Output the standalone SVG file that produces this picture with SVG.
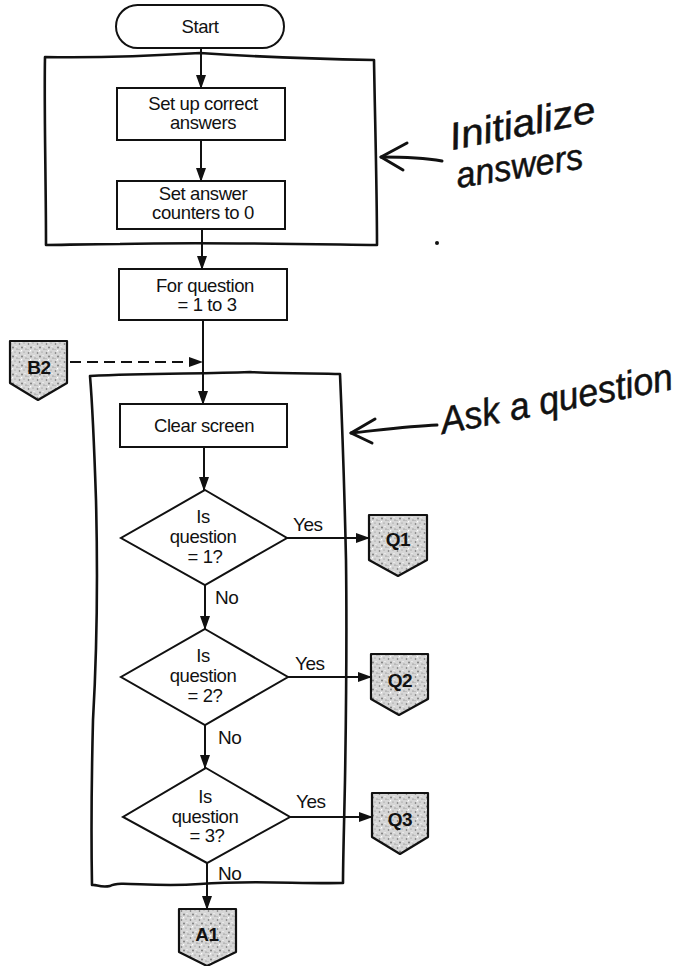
<svg xmlns="http://www.w3.org/2000/svg" width="694" height="966" viewBox="0 0 694 966">
  <style>
    .box { fill: #fff; stroke: #111; stroke-width: 2; }
    .hand { fill: none; stroke: #111; stroke-width: 2.6; stroke-linejoin: round; stroke-linecap: round; }
    .ink { fill: none; stroke: #111; stroke-width: 3; stroke-linecap: round; stroke-linejoin: round; }
    .flow { fill: none; stroke: #111; stroke-width: 2; }
    .dash { fill: none; stroke: #111; stroke-width: 2; stroke-dasharray: 11 6; }
    .lbl { font-family: "Liberation Sans", Arial, sans-serif; font-size: 18.5px; letter-spacing: -0.4px; fill: #111; text-anchor: middle; }
    .side { font-family: "Liberation Sans", Arial, sans-serif; font-size: 19px; letter-spacing: -0.5px; fill: #111; }
    .conn { fill: url(#stipple); stroke: #111; stroke-width: 2.2; stroke-linejoin: round; }
    .clbl { font-family: "Liberation Sans", Arial, sans-serif; font-size: 19px; font-weight: bold; letter-spacing: -0.5px; fill: #111; text-anchor: middle; }
    .script { font-family: "Liberation Sans", Arial, sans-serif; font-style: italic; fill: #111; stroke: #111; stroke-width: 0.5; }
  </style>
  <defs>
    <pattern id="stipple" width="9" height="9" patternUnits="userSpaceOnUse">
      <rect width="9" height="9" fill="#d6d6d6"/>
      <circle cx="1.5" cy="2" r="0.8" fill="#6a6a6a"/>
      <circle cx="6" cy="1" r="0.6" fill="#8a8a8a"/>
      <circle cx="4" cy="5.5" r="0.9" fill="#777"/>
      <circle cx="8" cy="7" r="0.6" fill="#666"/>
      <circle cx="1" cy="7.5" r="0.5" fill="#999"/>
      <rect x="6.5" y="4" width="1" height="1" fill="#fafafa"/>
      <rect x="2.5" y="0" width="1" height="1" fill="#fafafa"/>
      <rect x="3" y="8" width="1.2" height="1" fill="#fff"/>
    </pattern>
    <marker id="arrow" markerWidth="14" markerHeight="10" refX="13" refY="5" orient="auto" markerUnits="userSpaceOnUse">
      <path d="M0,0 L14,5 L0,10 Z" fill="#111"/>
    </marker>
  </defs>

  <rect width="694" height="966" fill="#fff"/>

  <!-- hand-drawn grouping frames -->
  <g id="frame-initialize">
    <path class="hand" d="M45,57 C100,58 150,56 200,53 C260,57 320,59 374,60 L374,60 C375,120 377,190 377,245 C300,244 200,242 120,244 C90,244 60,245 46,245 C46,180 44,110 45,57 Z"/>
  </g>
  <g id="frame-ask">
    <path class="hand" d="M90,376 C150,373 200,374 250,372 C290,374 320,373 340,374 C342,420 344,470 346,560 C347,640 346,720 345,780 C344,830 343,860 343,883 C300,884 250,880 200,884 C150,888 120,880 110,886 C100,888 96,884 92,885 C91,830 92,760 93,720 C97,650 98,580 96,500 C94,440 92,400 90,376 Z"/>
  </g>

  <!-- process nodes -->
  <g id="start">
    <rect class="box" x="116" y="5" width="168" height="43" rx="21.5"/>
    <text class="lbl" x="200" y="33">Start</text>
  </g>
  <g id="set-answers">
    <rect class="box" x="117" y="88" width="168" height="52"/>
    <text class="lbl" x="203" y="110">Set up correct</text>
    <text class="lbl" x="203" y="129">answers</text>
  </g>
  <g id="set-counters">
    <rect class="box" x="117" y="181" width="168" height="48"/>
    <text class="lbl" x="203" y="200">Set answer</text>
    <text class="lbl" x="203" y="219">counters to 0</text>
  </g>
  <g id="for-question">
    <rect class="box" x="119" y="269" width="168" height="51"/>
    <text class="lbl" x="205" y="292">For question</text>
    <text class="lbl" x="207" y="311">= 1 to 3</text>
  </g>
  <g id="clear-screen">
    <rect class="box" x="120" y="404" width="167" height="43"/>
    <text class="lbl" x="204" y="432">Clear screen</text>
  </g>

  <!-- decisions -->
  <g id="decision-1">
    <polygon class="box" points="205,490 287,538 205,585 121,538"/>
    <text class="lbl" x="203" y="523">Is</text>
    <text class="lbl" x="203" y="543">question</text>
    <text class="lbl" x="205" y="563">=  1?</text>
  </g>
  <g id="decision-2">
    <polygon class="box" points="205,629 288,677 205,725 121,677"/>
    <text class="lbl" x="203" y="662">Is</text>
    <text class="lbl" x="203" y="682">question</text>
    <text class="lbl" x="205" y="702">=  2?</text>
  </g>
  <g id="decision-3">
    <polygon class="box" points="206,768 290,817 207,863 123,817"/>
    <text class="lbl" x="205" y="803">Is</text>
    <text class="lbl" x="205" y="823">question</text>
    <text class="lbl" x="207" y="842">=  3?</text>
  </g>

  <!-- off-page connectors -->
  <g id="conn-b2">
    <polygon class="conn" points="10,341 67,341 67,383 38,400 10,383"/>
    <text class="clbl" x="39" y="374">B2</text>
  </g>
  <g id="conn-q1">
    <polygon class="conn" points="369,515 427,515 427,560 398,576 369,560"/>
    <text class="clbl" x="398" y="546">Q1</text>
  </g>
  <g id="conn-q2">
    <polygon class="conn" points="371,654 428,654 428,699 399,715 371,699"/>
    <text class="clbl" x="400" y="687">Q2</text>
  </g>
  <g id="conn-q3">
    <polygon class="conn" points="372,793 428,793 428,837 400,854 372,837"/>
    <text class="clbl" x="400" y="826">Q3</text>
  </g>
  <g id="conn-a1">
    <polygon class="conn" points="179,909 236,909 236,952 207,966 179,952"/>
    <text class="clbl" x="207" y="941">A1</text>
  </g>

  <!-- connectors -->
  <g id="edges">
    <line class="flow" x1="201" y1="48" x2="201" y2="88" marker-end="url(#arrow)"/>
    <line class="flow" x1="201" y1="140" x2="201" y2="181" marker-end="url(#arrow)"/>
    <line class="flow" x1="202" y1="229" x2="202" y2="269" marker-end="url(#arrow)"/>
    <line class="flow" x1="203" y1="320" x2="203" y2="404" marker-end="url(#arrow)"/>
    <line class="dash" x1="70" y1="362" x2="202" y2="362" marker-end="url(#arrow)"/>
    <line class="flow" x1="204" y1="447" x2="204" y2="490" marker-end="url(#arrow)"/>
    <line class="flow" x1="205" y1="585" x2="205" y2="629" marker-end="url(#arrow)"/>
    <line class="flow" x1="205" y1="725" x2="205" y2="768" marker-end="url(#arrow)"/>
    <line class="flow" x1="207" y1="863" x2="207" y2="909" marker-end="url(#arrow)"/>
    <line class="flow" x1="287" y1="538" x2="369" y2="538" marker-end="url(#arrow)"/>
    <line class="flow" x1="288" y1="677" x2="371" y2="677" marker-end="url(#arrow)"/>
    <line class="flow" x1="290" y1="817" x2="372" y2="817" marker-end="url(#arrow)"/>
    <text class="side" x="293" y="531">Yes</text>
    <text class="side" x="295" y="670">Yes</text>
    <text class="side" x="296" y="808">Yes</text>
    <text class="side" x="215" y="604">No</text>
    <text class="side" x="218" y="744">No</text>
    <text class="side" x="218" y="880">No</text>
  </g>

  <!-- handwritten annotations -->
  <g id="note-initialize">
    <path class="ink" d="M442,161 C425,158 400,157 381,157"/>
    <path class="ink" d="M407,143 L381,157 L403,170"/>
    <text class="script" x="452" y="150" font-size="38" textLength="148" lengthAdjust="spacingAndGlyphs" transform="rotate(-11 452 150)">Initialize</text>
    <text class="script" x="458" y="188" font-size="36" textLength="128" lengthAdjust="spacingAndGlyphs" transform="rotate(-9 458 188)">answers</text>
    <circle cx="437" cy="243" r="2" fill="#111"/>
  </g>
  <g id="note-ask">
    <path class="ink" d="M437,425 C410,426 380,430 351,433"/>
    <path class="ink" d="M375,419 L351,433 L372,443"/>
    <text class="script" x="443" y="434" font-size="38" textLength="236" lengthAdjust="spacingAndGlyphs" transform="rotate(-11 443 434)">Ask a question</text>
  </g>
</svg>
